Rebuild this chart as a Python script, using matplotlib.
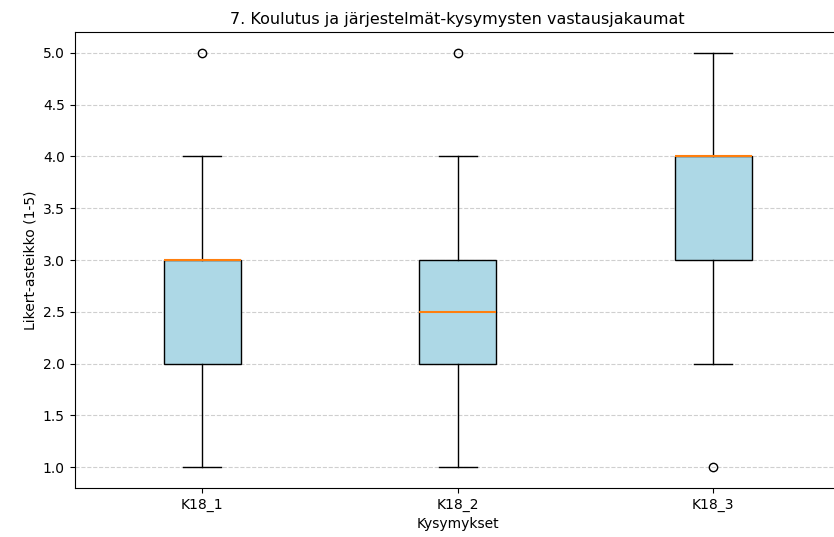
import matplotlib.pyplot as plt

# Kysymykset ja laatikkokuvion tunnusluvut (luettu kuvasta)
questions = ["K18_1", "K18_2", "K18_3"]
whisker_low = [1.0, 1.0, 2.0]
q1_values = [2.0, 2.0, 3.0]
medians = [3.0, 2.5, 4.0]
q3_values = [3.0, 3.0, 4.0]
whisker_high = [4.0, 4.0, 5.0]
outliers = [[5.0], [5.0], [1.0]]

stats = []
for i, q in enumerate(questions):
    stats.append({
        "label": q,
        "whislo": whisker_low[i],
        "q1": q1_values[i],
        "med": medians[i],
        "q3": q3_values[i],
        "whishi": whisker_high[i],
        "fliers": outliers[i],
    })

fig = plt.figure(figsize=(8.34, 5.37), dpi=100)
# akselit ulottuvat hieman kuvan oikean reunan yli kuten alkuperäisessä
ax = fig.add_axes([74.5 / 834, 49 / 537, (841 - 74.5) / 834, (488 - 32) / 537])

ax.bxp(stats, patch_artist=True,
       boxprops=dict(facecolor="lightblue", edgecolor="black"),
       medianprops=dict(color="#ff7f0e", linewidth=1.5))

ax.set_title("7. Koulutus ja järjestelmät-kysymysten vastausjakaumat", fontsize=11.5)
ax.set_xlabel("Kysymykset")
ax.set_ylabel("Likert-asteikko (1-5)")
ax.grid(axis="y", linestyle="--", alpha=0.6)
ax.set_axisbelow(True)

fig.savefig("out.png", dpi=100)
